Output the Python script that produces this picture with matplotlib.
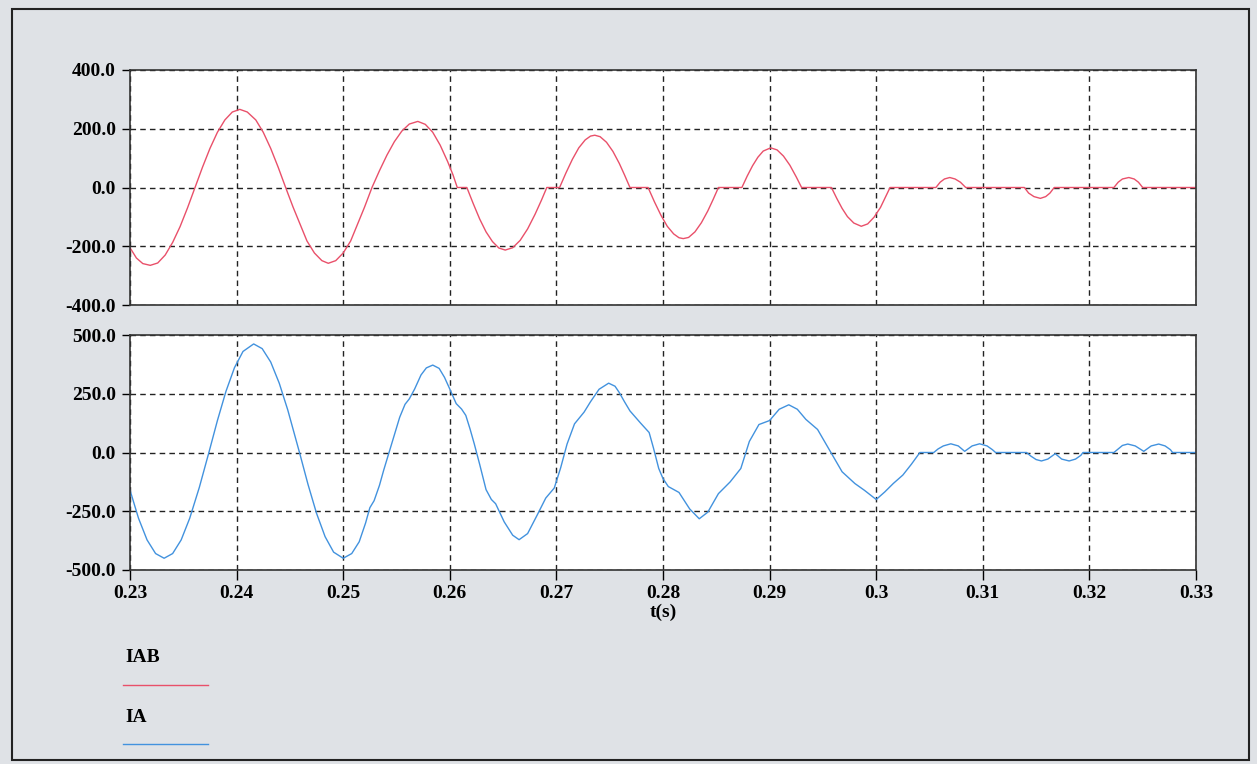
import matplotlib
matplotlib.use("Agg")
import matplotlib.pyplot as plt
import numpy as np
from matplotlib.patches import Rectangle

# IAB (top trace)
t_iab = [0.2300, 0.2306, 0.2312, 0.2319, 0.2326, 0.2333, 0.2340, 0.2347, 0.2354, 0.2361,
         0.2368, 0.2375, 0.2382, 0.2389, 0.2396, 0.2403, 0.2410, 0.2418, 0.2425, 0.2432,
         0.2439, 0.2446, 0.2453, 0.2460, 0.2466, 0.2473, 0.2480, 0.2486, 0.2493, 0.2500,
         0.2507, 0.2513, 0.2520, 0.2527, 0.2534, 0.2541, 0.2548, 0.2555, 0.2562, 0.2570,
         0.2577, 0.2584, 0.2591, 0.2598, 0.2603, 0.2607, 0.2616, 0.2622, 0.2628, 0.2634,
         0.2640, 0.2646, 0.2652, 0.2659, 0.2666, 0.2673, 0.2680, 0.2686, 0.2691, 0.2703,
         0.2709, 0.2715, 0.2721, 0.2727, 0.2732, 0.2736, 0.2741, 0.2747, 0.2753, 0.2759,
         0.2764, 0.2769, 0.2786, 0.2792, 0.2798, 0.2804, 0.2810, 0.2815, 0.2819, 0.2824,
         0.2830, 0.2836, 0.2842, 0.2847, 0.2852, 0.2874, 0.2879, 0.2884, 0.2889, 0.2894,
         0.2901, 0.2907, 0.2913, 0.2919, 0.2925, 0.2930, 0.2958, 0.2963, 0.2968, 0.2973,
         0.2979, 0.2986, 0.2992, 0.2998, 0.3004, 0.3009, 0.3013, 0.3056, 0.3060, 0.3064,
         0.3069, 0.3074, 0.3079, 0.3084, 0.3139, 0.3143, 0.3148, 0.3154, 0.3159, 0.3163,
         0.3167, 0.3223, 0.3227, 0.3231, 0.3237, 0.3242, 0.3246, 0.3250, 0.3300]
iab = [-205, -240, -259, -265, -257, -230, -187, -133, -69, 0,
       69, 133, 188, 230, 257, 266, 257, 230, 188, 133,
       69, 0, -67, -129, -182, -223, -249, -258, -249, -223,
       -182, -129, -67, 0, 57, 110, 156, 192, 216, 225,
       215, 188, 144, 88, 43, 0, 0, -55, -107, -151,
       -184, -206, -213, -205, -180, -141, -91, -43, 0, 0,
       50, 96, 135, 162, 175, 178, 173, 154, 123, 82,
       42, 0, 0, -49, -94, -132, -158, -171, -174, -170,
       -151, -120, -80, -41, 0, 0, 39, 74, 103, 124,
       135, 128, 107, 76, 36, 0, 0, -37, -71, -99,
       -121, -132, -124, -101, -68, -30, 0, 0, 18, 29,
       34, 29, 18, 0, 0, -19, -31, -37, -31, -19,
       0, 0, 18, 29, 34, 29, 18, 0, 0]

# IA (bottom trace)
t_ia = [0.2300, 0.2308, 0.2316, 0.2324, 0.2332, 0.2340, 0.2348, 0.2356, 0.2365, 0.2374,
        0.2382, 0.2390, 0.2398, 0.2406, 0.2416, 0.2424, 0.2432, 0.2440, 0.2448, 0.2459,
        0.2467, 0.2475, 0.2483, 0.2491, 0.2500, 0.2508, 0.2515, 0.2521, 0.2525, 0.2529,
        0.2534, 0.2538, 0.2543, 0.2548, 0.2553, 0.2558, 0.2562, 0.2567, 0.2573, 0.2578,
        0.2584, 0.2590, 0.2595, 0.2600, 0.2606, 0.2611, 0.2615, 0.2619, 0.2623, 0.2628,
        0.2634, 0.2639, 0.2643, 0.2651, 0.2659, 0.2665, 0.2673, 0.2682, 0.2690, 0.2698,
        0.2704, 0.2710, 0.2717, 0.2726, 0.2732, 0.2740, 0.2749, 0.2755, 0.2759, 0.2764,
        0.2769, 0.2779, 0.2787, 0.2791, 0.2796, 0.2800, 0.2805, 0.2815, 0.2825, 0.2834,
        0.2842, 0.2852, 0.2863, 0.2873, 0.2881, 0.2890, 0.2900, 0.2909, 0.2918, 0.2926,
        0.2934, 0.2945, 0.2957, 0.2968, 0.2980, 0.2989, 0.3000, 0.3008, 0.3016, 0.3025,
        0.3033, 0.3041, 0.3054, 0.3058, 0.3063, 0.3070, 0.3077, 0.3083, 0.3090, 0.3097,
        0.3104, 0.3109, 0.3112, 0.3141, 0.3145, 0.3150, 0.3155, 0.3161, 0.3168, 0.3174,
        0.3181, 0.3187, 0.3192, 0.3194, 0.3223, 0.3227, 0.3231, 0.3236, 0.3243, 0.3251,
        0.3258, 0.3265, 0.3271, 0.3276, 0.3278, 0.3300]
ia = [-160, -280, -372, -430, -450, -430, -372, -280, -149, 0,
      136, 260, 361, 430, 462, 442, 385, 295, 181, 0,
      -136, -259, -358, -424, -450, -430, -380, -300, -235, -205,
      -140, -75, 0, 75, 150, 205, 228, 270, 330, 360,
      372, 358, 320, 270, 208, 185, 158, 100, 36, -50,
      -158, -200, -218, -295, -352, -371, -345, -266, -194, -151,
      -65, 36, 122, 172, 216, 269, 295, 282, 255, 215,
      177, 125, 85, 20, -68, -111, -145, -170, -240, -282,
      -254, -175, -125, -68, 47, 119, 136, 184, 203, 184,
      141, 98, 4, -82, -132, -161, -200, -168, -132, -96,
      -50, 0, 0, 15, 28, 37, 28, 5, 28, 37,
      28, 12, 0, 0, -15, -30, -36, -28, -5, -28,
      -36, -28, -12, 0, 0, 15, 30, 36, 28, 5,
      28, 36, 28, 12, 0, 0]

x_ticks = [0.23, 0.24, 0.25, 0.26, 0.27, 0.28, 0.29, 0.30, 0.31, 0.32, 0.33]
x_labels = ["0.23", "0.24", "0.25", "0.26", "0.27", "0.28", "0.29", "0.3", "0.31", "0.32", "0.33"]
y_ticks_top = [-400, -200, 0, 200, 400]
y_labels_top = ["-400.0", "-200.0", "0.0", "200.0", "400.0"]
y_ticks_bot = [-500, -250, 0, 250, 500]
y_labels_bot = ["-500.0", "-250.0", "0.0", "250.0", "500.0"]

RED = "#e9506a"
BLUE = "#4292de"
BG = "#dfe2e6"
FONT = "Liberation Serif"
FS = 14

W, H = 1257, 764
fig = plt.figure(figsize=(W / 100, H / 100), dpi=100, facecolor=BG)


def px_axes(left, top, right, bottom):
    return fig.add_axes([left / W, 1 - bottom / H, (right - left) / W, (bottom - top) / H])


def style(ax, yticks, ylabels, ylim):
    ax.set_facecolor("white")
    ax.set_xlim(0.23, 0.33)
    ax.set_ylim(*ylim)
    ax.set_xticks(x_ticks)
    ax.set_yticks(yticks)
    ax.set_yticklabels(ylabels, fontfamily=FONT, fontweight="bold", fontsize=FS)
    ax.grid(True, color="#222222", linestyle=(0, (4, 3)), linewidth=1.0)
    ax.tick_params(axis="y", direction="out", length=6, width=1, pad=4)
    ax.tick_params(axis="x", direction="out", length=7, width=1, pad=4)
    for s in ax.spines.values():
        s.set_color("#333333")
        s.set_linewidth(1.2)


ax1 = px_axes(130, 70, 1196, 305)
ax1.plot(t_iab, iab, color=RED, linewidth=1.0)
style(ax1, y_ticks_top, y_labels_top, (-400, 400))
ax1.tick_params(axis="x", length=0, labelbottom=False)

ax2 = px_axes(130, 335, 1196, 570)
ax2.plot(t_ia, ia, color=BLUE, linewidth=1.0)
style(ax2, y_ticks_bot, y_labels_bot, (-500, 500))
ax2.set_xticklabels(x_labels, fontfamily=FONT, fontweight="bold", fontsize=FS)
ax2.set_xlabel("t(s)", fontfamily=FONT, fontweight="bold", fontsize=FS, labelpad=1)

# legend block below the plots
fig.text(125 / W, 1 - 658 / H, "IAB", fontfamily=FONT, fontweight="bold",
         fontsize=FS, va="center", ha="left")
fig.add_artist(plt.Line2D([123 / W, 208 / W], [1 - 685 / H, 1 - 685 / H], color=RED, linewidth=1.0))
fig.text(125 / W, 1 - 717 / H, "IA", fontfamily=FONT, fontweight="bold",
         fontsize=FS, va="center", ha="left")
fig.add_artist(plt.Line2D([123 / W, 208 / W], [1 - 744 / H, 1 - 744 / H], color=BLUE, linewidth=1.0))

# outer frame of the scanned page
fig.patches.append(Rectangle((12 / W, 1 - 760 / H), (1249 - 12) / W, (760 - 9) / H,
                             transform=fig.transFigure, fill=False,
                             edgecolor="#222222", linewidth=1.5))

fig.savefig("out.png", dpi=100, facecolor=BG)
